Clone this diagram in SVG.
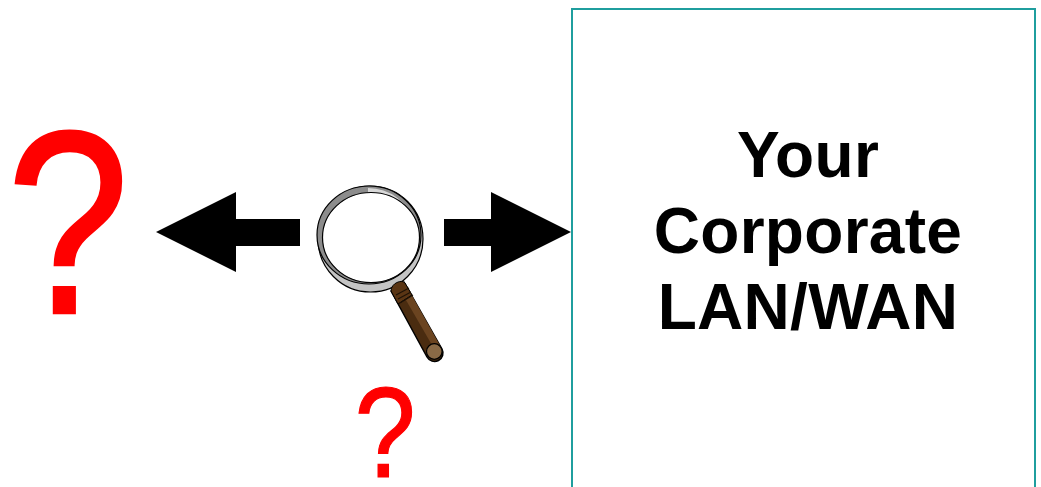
<svg xmlns="http://www.w3.org/2000/svg" width="1041" height="487" viewBox="0 0 1041 487">
<style>
.q{font-family:"Liberation Sans",Arial,sans-serif;fill:#ff0000;stroke:#ff0000;text-anchor:middle}
.t{font-family:"Liberation Sans",Arial,sans-serif;font-weight:700;font-size:64px;fill:#000;text-anchor:middle}
.k{stroke:#000;stroke-width:1.200}
</style>
<rect width="1041" height="487" fill="#fff"/>
<g id="lan-box"><rect x="572" y="9" width="463" height="490" fill="#fff" stroke="#1f9e9e" stroke-width="2"/>
<text class="t" x="808" y="177" letter-spacing="0.300">Your</text><text class="t" x="808" y="253" letter-spacing="0.300">Corporate</text><text class="t" x="808" y="329" letter-spacing="0.300">LAN/WAN</text></g>
<g id="q-left"><text class="q" transform="translate(68 313) scale(.86 1.02)" font-size="256" stroke-width="2.500">?</text></g>
<g id="q-bottom"><text class="q" transform="translate(385 477) scale(.86 1)" font-size="128" stroke-width="1.200">?</text></g>
<g id="connectors"><polygon points="156,232 236,192 236,219 300,219 300,246 236,246 236,272"/><polygon points="571,232 491,192 491,219 444,219 444,246 491,246 491,272"/></g>
<g id="magnifier">
<ellipse cx="370.500" cy="239" rx="52.500" ry="53" fill="#c4c4c4" class="k"/>
<ellipse cx="369" cy="235" rx="52" ry="49" fill="#8c8c8c" class="k"/>
<path d="M368 188A48 45 0 0 1 414 222L405 215A44 42 0 0 0 368 192Z" fill="#d8d8d8"/>
<ellipse cx="371" cy="237.500" rx="48.500" ry="45" fill="#fff" class="k" stroke-width="1.500"/>
<path d="M391 291 L404 282 L442 349 A8 8 0 0 1 427 357 Z" fill="#4a2c10" stroke="#000" stroke-width="1.500" stroke-linejoin="round"/>
<path d="M405 283 L442 349 L436 352 L399 288 Z" fill="#6b4420"/>
<path d="M391 291 C391 283 402 279 405 283 L412 295 L398 304 Z" fill="#5a3514" stroke="#000" stroke-width="1"/>
<path d="M396 295 L409 288 M398 299 L411 292 M400 303 L413 295" stroke="#1e1206" stroke-width="1.200" fill="none"/>
<circle cx="434.300" cy="351.500" r="7.800" fill="#8a6a46" stroke="#000" stroke-width="1.200"/>
</g>
</svg>
